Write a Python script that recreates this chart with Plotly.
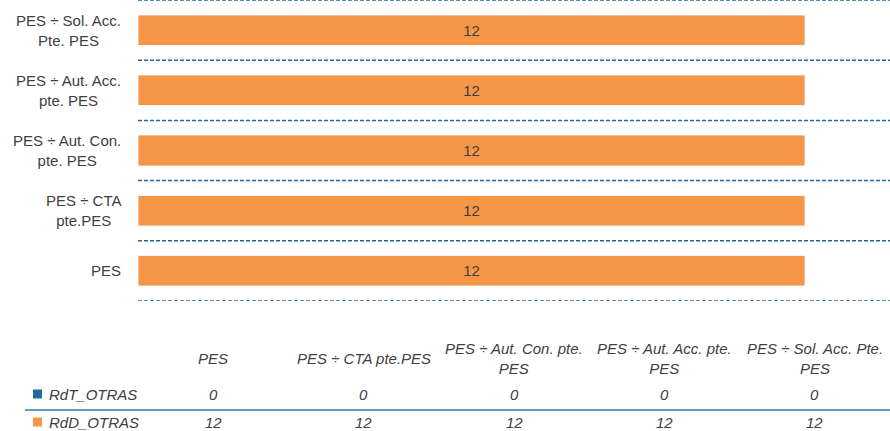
import plotly.graph_objects as go

categories = ["PES", "PES ÷ CTA pte.PES", "PES ÷ Aut. Con. pte. PES",
              "PES ÷ Aut. Acc. pte. PES", "PES ÷ Sol. Acc. Pte. PES"]
axis_labels = ["PES", "PES ÷ CTA<br>pte.PES", "PES ÷ Aut. Con.<br>pte. PES",
               "PES ÷ Aut. Acc.<br>pte. PES", "PES ÷ Sol. Acc.<br>Pte. PES"]
table_headers = ["PES", "PES ÷ CTA pte.PES", "PES ÷ Aut. Con. pte.<br>PES",
                 "PES ÷ Aut. Acc. pte.<br>PES", "PES ÷ Sol. Acc. Pte.<br>PES"]
series_names = ["RdT_OTRAS", "RdD_OTRAS"]
rdt_values = [0, 0, 0, 0, 0]
rdd_values = [12, 12, 12, 12, 12]

BLUE = "#1F6A9E"
ORANGE = "#F79646"
TXT = "#404040"
FONT = "Liberation Sans Narrow, Arial Narrow, Liberation Sans, Arial, sans-serif"
FS = 15

fig = go.Figure()
fig.add_trace(go.Bar(y=categories, x=rdt_values, orientation="h", name=series_names[0],
                     marker_color=BLUE, width=0.5))
fig.add_trace(go.Bar(y=categories, x=rdd_values, orientation="h", name=series_names[1],
                     marker_color=ORANGE, width=0.5, text=[str(v) for v in rdd_values],
                     textposition="inside", insidetextanchor="middle",
                     textfont=dict(color=TXT, size=FS, family=FONT)))

H = 301.0
W = 752.0
def py(p):
    return (H - p) / H
def px(p):
    return (p - 138) / W

ann = []
for c, lab in zip(categories, axis_labels):
    ann.append(dict(x=0, xref="paper", xshift=-15, y=c, yref="y", text=lab,
                    showarrow=False, xanchor="right", yanchor="middle", align="center",
                    font=dict(size=FS, color=TXT, family=FONT)))
n = len(categories)
for i, (h, v0, v1) in enumerate(zip(table_headers, rdt_values, rdd_values)):
    xc = (i + 0.5) / n
    ann.append(dict(x=xc, xref="paper", y=py(358), yref="paper", text="<i>%s</i>" % h,
                    showarrow=False, xanchor="center", yanchor="middle", align="center",
                    font=dict(size=FS, color=TXT, family=FONT)))
    ann.append(dict(x=xc, xref="paper", y=py(394), yref="paper", text="<i>%s</i>" % v0,
                    showarrow=False, xanchor="center", yanchor="middle",
                    font=dict(size=FS, color=TXT, family=FONT)))
    ann.append(dict(x=xc, xref="paper", y=py(422), yref="paper", text="<i>%s</i>" % v1,
                    showarrow=False, xanchor="center", yanchor="middle",
                    font=dict(size=FS, color=TXT, family=FONT)))

shapes = []
for name, col, p in [(series_names[0], BLUE, 394), (series_names[1], ORANGE, 422)]:
    ann.append(dict(x=px(47), xref="paper", y=py(p), yref="paper",
                    text="<i>%s</i>" % name,
                    showarrow=False, xanchor="left", yanchor="middle",
                    font=dict(size=FS, color=TXT, family=FONT)))
    shapes.append(dict(type="rect", xref="paper", yref="paper",
                       x0=px(33), x1=px(42), y0=py(p + 4.5), y1=py(p - 4.5),
                       fillcolor=col, line=dict(width=0)))

for k in range(n + 1):
    shapes.append(dict(type="line", xref="paper", x0=0, x1=1, yref="y", y0=k - 0.5, y1=k - 0.5,
                       line=dict(color=BLUE, width=1.5, dash="4px,2px")))
shapes.append(dict(type="line", xref="paper", x0=px(25), x1=1, yref="paper",
                   y0=py(410), y1=py(410), line=dict(color="#2F7BB0", width=1.5)))

fig.update_layout(
    width=890, height=431,
    margin=dict(l=138, r=0, t=0, b=130),
    barmode="stack",
    showlegend=False,
    plot_bgcolor="white", paper_bgcolor="white",
    xaxis=dict(range=[0, 13.53], visible=False, fixedrange=True),
    yaxis=dict(type="category", categoryarray=categories, range=[-0.5, 4.5],
               showticklabels=False, showgrid=False, zeroline=False, fixedrange=True),
    annotations=ann, shapes=shapes,
    font=dict(family=FONT, color=TXT),
)
fig.write_html("out.html", config={"displayModeBar": False},
               post_script="document.body.style.margin='0';document.body.style.overflow='hidden';")
